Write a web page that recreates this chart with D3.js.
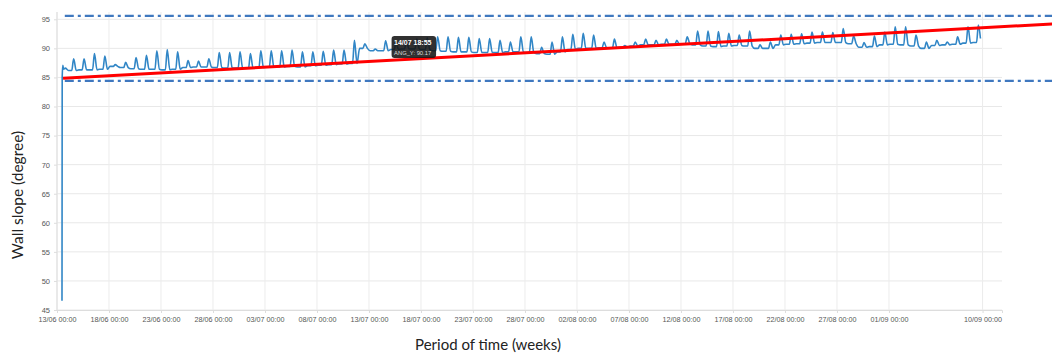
<!DOCTYPE html>
<html>
<head>
<meta charset="utf-8">
<script src="https://cdn.jsdelivr.net/npm/d3@7"></script>
<style>
  body { margin: 0; background: #fff; }
  .axis { opacity: 0.99; }
</style>
</head>
<body>
<svg id="chart" width="1052" height="356"></svg>
<script>
// values
var year = 2019;
var tickDays = ["13/06","18/06","23/06","28/06","03/07","08/07","13/07","18/07","23/07","28/07",
                "02/08","07/08","12/08","17/08","22/08","27/08","01/09","10/09"];
var yTicks = [45, 50, 55, 60, 65, 70, 75, 80, 85, 90, 95];

// first half day of the record: [day offset, value]
var startVals = [[0.48, 46.6], [0.50, 85.1], [0.56, 87.1], [0.64, 86.4], [0.80, 86.6]];
// daily low and daily peak, days 1..88 after 13/06
var baseVals = [86.2,86.3,86.3,86.4,86.9,86.7,86.5,86.4,86.4,86.3,86.4,86.7,86.8,86.8,86.7,86.6,86.6,86.6,86.7,86.8,
                86.8,86.9,86.8,87.0,87.1,87.2,87.3,87.4,90.0,89.6,89.6,89.8,89.9,89.9,89.8,89.6,89.5,89.4,89.4,89.3,
                89.3,89.3,89.4,89.4,89.3,89.1,89.0,89.4,89.8,90.0,90.0,90.1,90.1,90.2,90.4,90.6,90.6,90.7,90.7,90.8,
                90.6,90.4,90.3,90.4,90.5,90.4,90.0,90.0,90.6,90.7,90.8,90.9,91.0,91.0,91.0,90.8,90.2,90.3,90.6,90.7,
                90.6,90.4,90.0,90.5,90.6,90.7,90.9,91.0];
var peakVals = [88.2,88.2,89.1,88.7,87.2,87.6,88.4,88.8,89.6,89.8,89.4,87.9,87.8,88.2,89.3,89.3,89.4,89.1,89.6,89.6,
                89.6,89.7,89.4,89.4,89.5,89.7,89.7,91.4,90.8,89.9,91.3,90.9,91.3,91.6,91.8,92.0,92.0,91.9,91.9,91.7,
                91.7,91.4,91.1,92.0,92.0,90.2,91.1,92.0,92.4,92.6,92.3,91.1,91.6,90.5,91.1,91.6,91.4,91.6,91.4,92.0,
                93.0,93.0,92.9,92.6,92.3,93.0,90.6,91.1,92.3,92.4,92.5,92.8,92.8,92.7,93.4,92.1,91.0,92.1,92.8,93.7,
                93.7,92.3,91.1,91.4,91.1,92.0,93.7,94.0];
var endPoint = [88.8, 91.7];

// trend line and limit lines
var trendDays = [0.58, 95.7];
var trendVals = [84.86, 94.2];
var limitDays = [0.75, 96];
var upperLimit = 95.6;
var lowerLimit = 84.4;

// hovered point
var hoverTime = "14/07 18:55";
var hoverLabel = "ANG_Y";
var hoverVal = 90.17;

var svg = d3.select("#chart"),
    width = +svg.attr("width"),
    height = +svg.attr("height");

var t0 = Date.UTC(year, 5, 13);
function dayDate(d) { return new Date(t0 + d * 864e5); }
var parseDay = d3.utcParse("%d/%m %Y");
var parseTime = d3.utcParse("%d/%m %H:%M %Y");

var x = d3.scaleUtc()
    .domain([dayDate(0), dayDate(90.87)])
    .range([57, 1002]);
var y = d3.scaleLinear()
    .domain([45, 95])
    .range([310, 19.3]);

// build series
var series = startVals.map(function(p) { return [dayDate(p[0]), p[1]]; });
peakVals.forEach(function(pk, i) {
    var k = i + 1, b = baseVals[i];
    series.push([dayDate(k + 0.1), b]);
    series.push([dayDate(k + 0.42), b]);
    series.push([dayDate(k + 0.6), pk]);
    if (k < 88) series.push([dayDate(k + 0.85), b]);
});
series.push([dayDate(endPoint[0]), endPoint[1]]);

// grid
var tickDates = tickDays.map(function(s) { return parseDay(s + " " + year); });
svg.append("g")
    .selectAll("line")
    .data(yTicks).enter()
    .append("line")
    .attr("x1", x.range()[0]).attr("x2", x.range()[1])
    .attr("y1", function(d) { return y(d); })
    .attr("y2", function(d) { return y(d); })
    .attr("stroke", "#e8e8e8");
svg.append("g")
    .selectAll("line")
    .data(tickDates).enter()
    .append("line")
    .attr("x1", function(d) { return x(d); })
    .attr("x2", function(d) { return x(d); })
    .attr("y1", 12).attr("y2", y(45))
    .attr("stroke", "#ececec");

// axes
var fmt = d3.utcFormat("%d/%m %H:%M");
var xAxis = svg.append("g")
    .attr("class", "axis")
    .attr("transform", "translate(0," + y(45) + ")")
    .call(d3.axisBottom(x).tickValues(tickDates).tickFormat(fmt).tickSize(3).tickPadding(4));
xAxis.selectAll("text")
    .attr("font-size", "7.2px")
    .attr("font-family", "Liberation Sans, Arial, sans-serif")
    .attr("fill", "#555");
xAxis.selectAll("line, path").attr("stroke", "#ddd");

var yAxis = svg.append("g")
    .attr("class", "axis")
    .attr("transform", "translate(" + x.range()[0] + ",0)")
    .call(d3.axisLeft(y).tickValues(yTicks).tickSize(3).tickPadding(4));
yAxis.select(".domain").attr("d", "M0,12V" + y(45));
yAxis.selectAll("text")
    .attr("font-size", "7.5px")
    .attr("font-family", "Liberation Sans, Arial, sans-serif")
    .attr("fill", "#555");
yAxis.selectAll("line, path").attr("stroke", "#ddd");

// limit lines
[upperLimit, lowerLimit].forEach(function(v) {
    svg.append("line")
        .attr("x1", x(dayDate(limitDays[0]))).attr("x2", x(dayDate(limitDays[1])))
        .attr("y1", y(v)).attr("y2", y(v))
        .attr("stroke", "#3f78bf")
        .attr("stroke-width", 2.2)
        .attr("stroke-dasharray", "9,4,3,4");
});

// data line
var line = d3.line()
    .curve(d3.curveMonotoneX)
    .x(function(d) { return x(d[0]); })
    .y(function(d) { return y(d[1]); });
svg.append("path")
    .datum(series)
    .attr("fill", "none")
    .attr("stroke", "#3186c6")
    .attr("stroke-width", 1.6)
    .attr("stroke-linejoin", "round")
    .attr("d", line);

// trend
svg.append("line")
    .attr("x1", x(dayDate(trendDays[0]))).attr("x2", x(dayDate(trendDays[1])))
    .attr("y1", y(trendVals[0])).attr("y2", y(trendVals[1]))
    .attr("stroke", "#ff0000")
    .attr("stroke-width", 3);

// tooltip
var ht = parseTime(hoverTime + " " + year);
var tip = svg.append("g")
    .attr("transform", "translate(" + (x(ht) + 4) + "," + (y(hoverVal) - 11.5) + ")");
tip.append("rect")
    .attr("width", 44.5).attr("height", 22).attr("rx", 3)
    .attr("fill", "rgba(20,20,20,0.88)");
tip.append("text")
    .attr("x", 2.5).attr("y", 8.8)
    .attr("fill", "#fff")
    .attr("font-family", "Liberation Sans, Arial, sans-serif")
    .attr("font-weight", "bold")
    .attr("font-size", "7px")
    .text(hoverTime);
tip.append("text")
    .attr("x", 2.5).attr("y", 19.3)
    .attr("fill", "#ddd")
    .attr("font-family", "Liberation Sans, Arial, sans-serif")
    .attr("font-size", "5.8px")
    .text(hoverLabel + ": " + hoverVal.toFixed(2));

// titles
svg.append("text")
    .attr("x", 488).attr("y", 350)
    .attr("text-anchor", "middle")
    .attr("font-family", "Lato, sans-serif")
    .attr("font-size", "15px")
    .attr("fill", "#222")
    .text("Period of time (weeks)");
svg.append("text")
    .attr("transform", "translate(23,195) rotate(-90)")
    .attr("text-anchor", "middle")
    .attr("font-family", "Lato, sans-serif")
    .attr("font-size", "15.5px")
    .attr("fill", "#222")
    .text("Wall slope (degree)");
</script>
</body>
</html>
